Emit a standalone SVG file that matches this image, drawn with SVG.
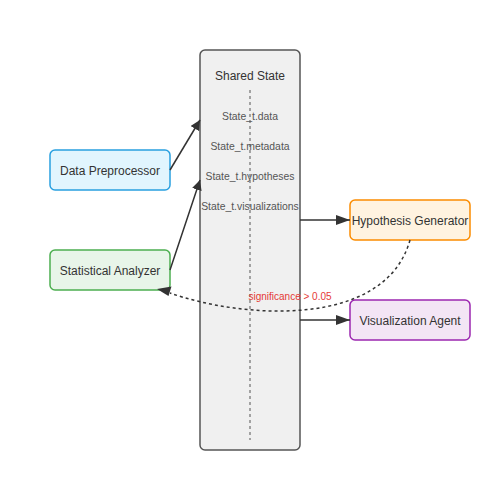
<svg xmlns="http://www.w3.org/2000/svg" width="500" height="500" viewBox="0 0 500 500">
<style>
text{font-family:"Liberation Sans",Arial,sans-serif;}
.node{stroke-width:1.5;}
.lbl{font-size:12px;fill:#333;text-anchor:middle;}
.st{font-size:10.4px;fill:#555;text-anchor:middle;}
.conn{fill:none;stroke:#333;stroke-width:1.5;}
.head{fill:#333;stroke:none;}
</style>
<defs>
<marker id="ah" viewBox="0 0 10 10" refX="10" refY="5" markerWidth="10" markerHeight="10" markerUnits="userSpaceOnUse" orient="auto">
<path d="M0,0 L10,5 L0,10 z" class="head"/>
</marker>
<marker id="ah2" viewBox="0 0 14 10" refX="14" refY="5" markerWidth="14" markerHeight="10" markerUnits="userSpaceOnUse" orient="auto">
<path d="M0,0 L14,5 L0,10 z" class="head"/>
</marker>
</defs>
<rect width="500" height="500" fill="#fff"/>
<g id="shared-state">
<rect x="200" y="50" width="100" height="400" rx="5" fill="#f0f0f0" stroke="#555" stroke-width="1.5"/>
<text x="250" y="80" class="lbl">Shared State</text>
<line x1="250" y1="90" x2="250" y2="440" stroke="#888" stroke-width="1.5" stroke-dasharray="3,3"/>
<text x="250" y="120" class="st">State_t.data</text>
<text x="250" y="150" class="st">State_t.metadata</text>
<text x="250" y="180" class="st">State_t.hypotheses</text>
<text x="250" y="210" class="st">State_t.visualizations</text>
</g>
<g id="data-preprocessor">
<rect x="50" y="150" width="120" height="40" rx="5" fill="#e1f5fe" stroke="#29a0e0" class="node"/>
<text x="110" y="175" class="lbl">Data Preprocessor</text>
</g>
<g id="statistical-analyzer">
<rect x="50" y="250" width="120" height="40" rx="5" fill="#e8f5e9" stroke="#4caf50" class="node"/>
<text x="110" y="275" class="lbl">Statistical Analyzer</text>
</g>
<g id="hypothesis-generator">
<rect x="350" y="200" width="120" height="40" rx="5" fill="#fff3e0" stroke="#fb8c00" class="node"/>
<text x="410" y="225" class="lbl">Hypothesis Generator</text>
</g>
<g id="visualization-agent">
<rect x="350" y="300" width="120" height="40" rx="5" fill="#f3e5f5" stroke="#9c27b0" class="node"/>
<text x="410" y="325" class="lbl">Visualization Agent</text>
</g>
<g id="connectors">
<line x1="170" y1="170" x2="200" y2="120" class="conn" marker-end="url(#ah)"/>
<line x1="170" y1="270" x2="200" y2="180" class="conn" marker-end="url(#ah)"/>
<line x1="300" y1="220" x2="350" y2="220" class="conn" marker-end="url(#ah2)"/>
<line x1="300" y1="320" x2="350" y2="320" class="conn" marker-end="url(#ah2)"/>
<path d="M410,240 C385,330 240,318 170,293" class="conn" stroke-dasharray="3,3"/>
<polygon points="157,289 171.5,286.5 168.5,296" class="head"/>
<text x="290" y="300" font-size="10" fill="#e53935" text-anchor="middle">significance &gt; 0.05</text>
</g>
</svg>
